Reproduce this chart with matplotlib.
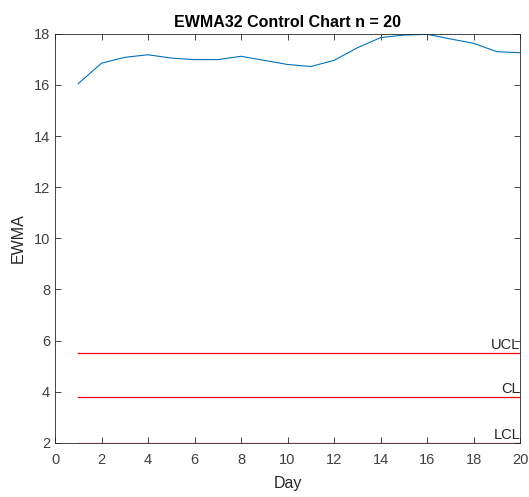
import matplotlib.pyplot as plt

plt.rcParams['font.family'] = ['Liberation Sans', 'DejaVu Sans']

days = list(range(1, 21))
ewma = [16.05, 16.85, 17.08, 17.18, 17.05, 16.99, 16.99, 17.12, 16.96, 16.8,
        16.72, 16.96, 17.45, 17.85, 17.95, 17.98, 17.8, 17.63, 17.3, 17.26]
ucl = 5.52
cl = 3.8
lcl = 2.0
limit_names = ['UCL', 'CL', 'LCL']

fig = plt.figure(figsize=(5.29, 4.97), dpi=100)
ax = fig.add_axes([0.104, 0.109, 0.879, 0.823])

ax.plot(days, ewma, color='#0072BD', linewidth=0.8)
for name, val in zip(limit_names, [ucl, cl, lcl]):
    ax.plot([days[0], days[-1]], [val, val], color='red', linewidth=0.9)
    ax.text(days[-1], val + 0.05, name, ha='right', va='bottom', fontsize=10.5, color='#262626')

ax.set_xlim(0, 20)
ax.set_ylim(2, 18)
ax.set_xticks(range(0, 21, 2))
ax.set_yticks(range(2, 19, 2))
ax.tick_params(direction='in', top=True, right=True, length=4, width=0.6,
               labelsize=10.5, colors='#262626', labelcolor='#404040')
ax.tick_params(axis='x', pad=7)
for sp in ax.spines.values():
    sp.set_color('#262626')
    sp.set_linewidth(0.6)

ax.set_xlabel('Day', fontsize=11.5, color='#262626', labelpad=7)
ax.set_ylabel('EWMA', fontsize=11.5, color='#262626', labelpad=6)
ax.set_title('EWMA32 Control Chart n = 20', fontsize=11.5, fontweight='bold', pad=5)

fig.savefig('out.png', dpi=100)
